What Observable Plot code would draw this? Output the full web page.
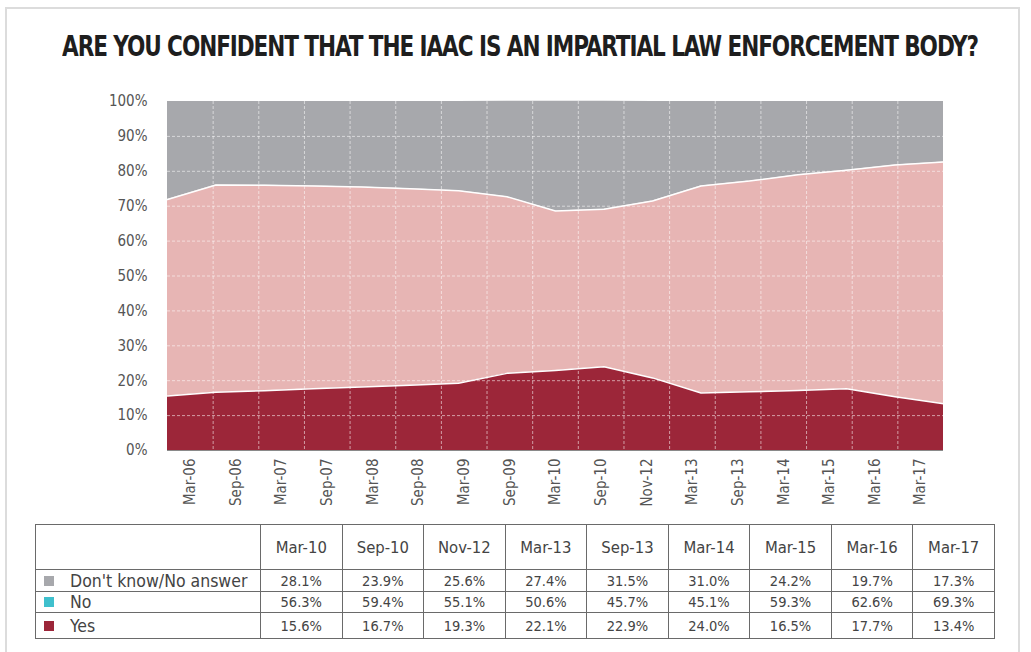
<!DOCTYPE html>
<html><head><meta charset="utf-8">
<script src="https://cdn.jsdelivr.net/npm/d3@7"></script>
<script src="https://cdn.jsdelivr.net/npm/@observablehq/plot@0.6"></script>
<style>
body{margin:0;background:#fff;width:1031px;height:652px;overflow:hidden;position:relative;font-family:"DejaVu Sans Condensed","Liberation Sans",sans-serif;}
#frame{position:absolute;left:5px;top:7px;width:1015px;height:660px;border:2px solid #dcdcdc;box-sizing:border-box;}
#title{position:absolute;top:34px;left:9px;width:1022px;text-align:center;line-height:26px;}
#tt{display:inline-block;white-space:nowrap;font-weight:bold;font-size:24px;color:#1e1e1e;transform:scaleY(1.15);transform-origin:center;}
#chart{position:absolute;left:0;top:80px;}
#tbl{position:absolute;left:35px;top:524px;border-collapse:collapse;width:960px;table-layout:fixed;color:#444;}
#tbl td{border:1.5px solid #6a6a6a;padding:0;text-align:center;font-size:14.5px;}
#tbl tr.h td{height:44px;font-size:16.5px;}
#tbl tr.r1 td{height:21px;}
#tbl tr.r2 td{height:20px;}
#tbl tr.r3 td{height:25px;}
#tbl td.lab{text-align:left;font-size:17.5px;padding-left:8px;white-space:nowrap;color:#444;}
.mk{display:inline-block;width:10px;height:10px;margin-right:16px;vertical-align:1px;}
</style></head>
<body>
<div id="frame"></div>
<div id="title"><span id="tt">ARE YOU CONFIDENT THAT THE IAAC IS AN IMPARTIAL LAW ENFORCEMENT BODY?</span></div>
<div id="chart"></div>
<table id="tbl"></table>
<script>
const cats = ["Mar-06","Sep-06","Mar-07","Sep-07","Mar-08","Sep-08","Mar-09","Sep-09","Mar-10","Sep-10","Nov-12","Mar-13","Sep-13","Mar-14","Mar-15","Mar-16","Mar-17"];
const yesVals = [15.6,16.7,17.1,17.7,18.2,18.7,19.3,22.1,22.9,24.0,20.8,16.5,16.8,17.2,17.7,15.4,13.4];
const noVals  = [56.3,59.4,58.9,58.1,57.3,56.3,55.1,50.6,45.7,45.1,50.7,59.3,60.4,61.8,62.6,66.4,69.3];
const dkVals  = [28.1,23.9,24.0,24.2,24.5,25.0,25.6,27.4,31.5,31.0,28.5,24.2,22.8,21.0,19.7,18.2,17.3];
const seriesNames = ["Yes","No","Don't know/No answer"];
const seriesColors = ["#9c2639","#e7b5b4","#a7a8ac"];
const legendColors = ["#9c2639","#3fc0cd","#a7a8ac"];
const yTicks = [0,10,20,30,40,50,60,70,80,90,100];

const tableCats = ["Mar-10","Sep-10","Nov-12","Mar-13","Sep-13","Mar-14","Mar-15","Mar-16","Mar-17"];
const tableDK  = ["28.1%","23.9%","25.6%","27.4%","31.5%","31.0%","24.2%","19.7%","17.3%"];
const tableNo  = ["56.3%","59.4%","55.1%","50.6%","45.7%","45.1%","59.3%","62.6%","69.3%"];
const tableYes = ["15.6%","16.7%","19.3%","22.1%","22.9%","24.0%","16.5%","17.7%","13.4%"];

// fit title to the reference width by letter spacing
const tt = document.getElementById("tt");
const w0 = tt.getBoundingClientRect().width;
const nChars = tt.textContent.length;
tt.style.letterSpacing = ((916 - w0) / nChars) + "px";

const n = cats.length;
const seriesVals = [yesVals, noVals, dkVals];
const data = seriesNames.flatMap((s, k) => seriesVals[k].map((v, i) => ({series: s, i, value: v})));
const xPos = d => d.i * n / (n - 1);
const font = '"DejaVu Sans Condensed","Liberation Sans",sans-serif';

const chart = Plot.plot({
  width: 1031, height: 440,
  marginTop: 21, marginBottom: 70, marginLeft: 167, marginRight: 88,
  style: {fontFamily: font, fontSize: "14px", color: "#555", background: "transparent"},
  x: {domain: [0, n], axis: null},
  y: {domain: [0, 100], axis: null},
  color: {domain: seriesNames, range: seriesColors},
  marks: [
    Plot.areaY(data, {x: xPos, y: "value", z: "series", fill: "series"}),
    Plot.lineY(data.filter(d => d.series !== seriesNames[2]), Plot.stackY2({x: xPos, y: "value", z: "series", stroke: "white", strokeWidth: 1.5})),
    Plot.ruleY(yTicks.filter(t => t > 0 && t < 100), {stroke: "white", strokeDasharray: "3,2", strokeOpacity: 0.55}),
    Plot.ruleX(d3.range(1, n), {stroke: "white", strokeDasharray: "3,2", strokeOpacity: 0.55}),
    Plot.ruleY([0], {stroke: "#8a8a8a"}),
    Plot.axisY(yTicks, {label: null, tickFormat: d => d + "%", tickSize: 0, tickPadding: 20, fontSize: 15, fill: "#555"}),
    Plot.axisX(cats.map((c, i) => i + 0.5), {label: null, tickFormat: d => cats[Math.floor(d)], tickRotate: -90, tickSize: 0, tickPadding: 8, fontSize: 15, fill: "#555"})
  ]
});
document.getElementById("chart").appendChild(chart);

// table
const tbl = document.getElementById("tbl");
const colgroup = document.createElement("colgroup");
colgroup.innerHTML = '<col style="width:225px">' + tableCats.map(() => '<col>').join("");
tbl.appendChild(colgroup);
const hr = tbl.insertRow(); hr.className = "h";
hr.insertCell().innerHTML = "";
tableCats.forEach(c => { hr.insertCell().textContent = c; });
const rows = [[seriesNames[2], tableDK, legendColors[2], "r1"], [seriesNames[1], tableNo, legendColors[1], "r2"], [seriesNames[0], tableYes, legendColors[0], "r3"]];
rows.forEach(([name, vals, col, cls]) => {
  const r = tbl.insertRow(); r.className = cls;
  const c0 = r.insertCell(); c0.className = "lab";
  const mk = document.createElement("span"); mk.className = "mk"; mk.style.background = col;
  c0.appendChild(mk); c0.appendChild(document.createTextNode(name));
  vals.forEach(v => { r.insertCell().textContent = v; });
});
</script>
</body></html>
